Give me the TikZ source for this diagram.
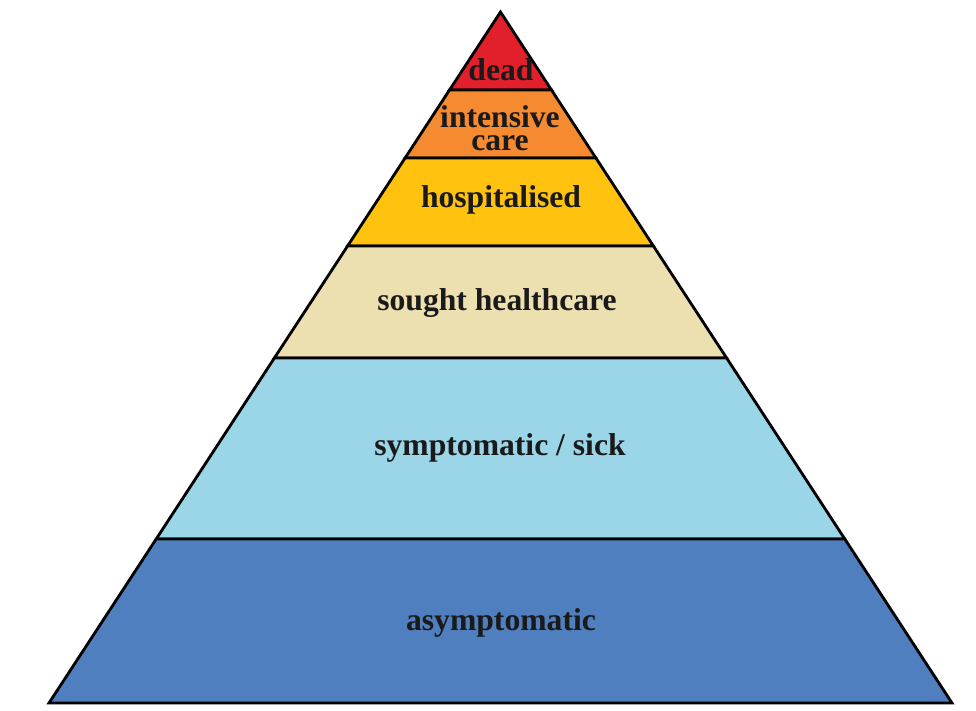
\documentclass[tikz,border=0pt]{standalone}
\usepackage{fontspec}
\setmainfont{Liberation Serif}
\usepackage{xcolor}
\definecolor{Dead}{HTML}{E2202B}
\definecolor{Intensive}{HTML}{F68A31}
\definecolor{Hospital}{HTML}{FEC20F}
\definecolor{Sought}{HTML}{EDE0B0}
\definecolor{Sick}{HTML}{9AD5E8}
\definecolor{Asympt}{HTML}{4F7FBE}
\definecolor{TextDark}{HTML}{1A1A1A}

\begin{document}
\begin{tikzpicture}[x=0.025cm,y=-0.025cm,
    band/.style={draw=black,line width=2pt},
    lbl/.style={font=\fontsize{22.5}{16}\selectfont\bfseries,
                text=TextDark,align=center,inner sep=0pt}]
  \useasboundingbox (0,0) rectangle (976,711);
  % layers, top to bottom
  \filldraw[band,fill=Dead]      (500.5,12) -- (551.5,90) -- (449.5,90) -- cycle;
  \filldraw[band,fill=Intensive] (449.5,90) -- (551.5,90) -- (595.9,158) -- (405.1,158) -- cycle;
  \filldraw[band,fill=Hospital]  (405.1,158) -- (595.9,158) -- (653.4,246) -- (347.6,246) -- cycle;
  \filldraw[band,fill=Sought]    (347.6,246) -- (653.4,246) -- (726.6,358) -- (274.4,358) -- cycle;
  \filldraw[band,fill=Sick]      (274.4,358) -- (726.6,358) -- (844.8,539) -- (156.2,539) -- cycle;
  \filldraw[band,fill=Asympt]    (156.2,539) -- (844.8,539) -- (952,703) -- (49,703) -- cycle;
  % labels
  \node[lbl,anchor=base] (dead)     at (501,80)  {dead};
  \node[lbl,anchor=base] (icu)      at (500,150) {intensive\\care};
  \node[lbl,anchor=base] (hosp)     at (501,207) {hospitalised};
  \node[lbl,anchor=base] (sought)   at (497,310) {sought healthcare};
  \node[lbl,anchor=base] (sick)     at (500,455) {symptomatic / sick};
  \node[lbl,anchor=base] (asympt)   at (501,630) {asymptomatic};
\end{tikzpicture}
\end{document}
